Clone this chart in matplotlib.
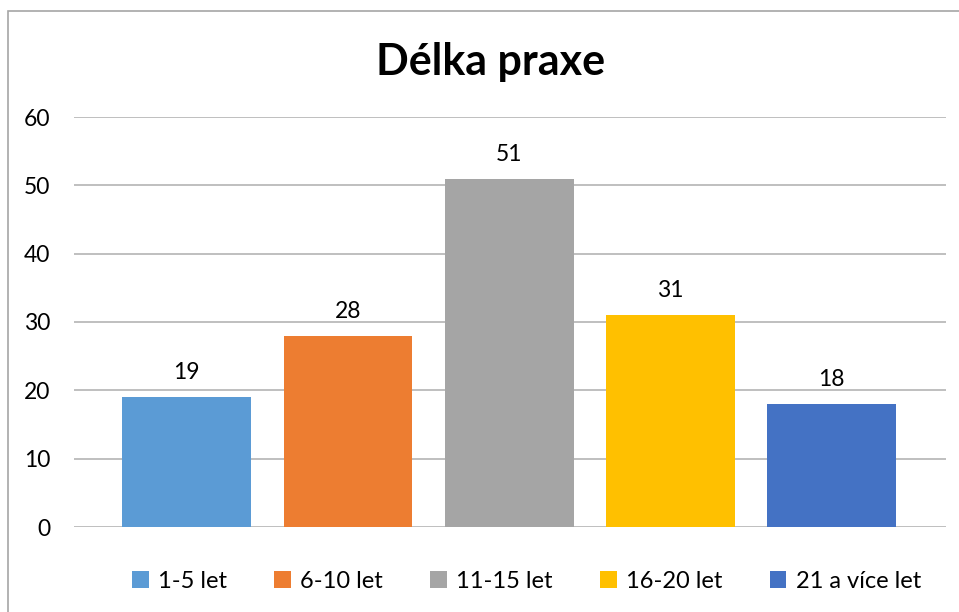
import matplotlib.pyplot as plt
from matplotlib.patches import Rectangle

# data
kategorie = ['1-5 let', '6-10 let', '11-15 let', '16-20 let', '21 a více let']
pocty = [19, 28, 51, 31, 18]
barvy = ['#5B9BD5', '#ED7D31', '#A5A5A5', '#FFC000', '#4472C4']
y_ticks = [0, 10, 20, 30, 40, 50, 60]

plt.rcParams['font.family'] = ['Lato', 'DejaVu Sans']

fig = plt.figure(figsize=(9.59, 6.12), dpi=100)
ax = fig.add_axes([74/959, 1-527/612, (946-74)/959, (527-117)/612])

x = list(range(len(kategorie)))
bars = ax.bar(x, pocty, width=0.8, color=barvy, zorder=3)
for b, v in zip(bars, pocty):
    ax.annotate(str(v), (b.get_x() + b.get_width()/2, v), xytext=(0, 10),
                textcoords='offset points', ha='center', va='bottom',
                fontsize=16.5, color='#000000')

ax.set_xlim(-0.70, 4.71)
ax.set_ylim(0, 60)
ax.set_yticks(y_ticks)
ax.tick_params(axis='y', length=0, labelsize=16.5, pad=17, labelcolor='#000000')
ax.set_xticks([])
ax.grid(axis='y', color='#BFBFBF', linewidth=1.4, zorder=0)
for s in ax.spines.values():
    s.set_visible(False)

fig.text(0.512, 1-62/612, 'Délka praxe', ha='center', va='center',
         fontsize=31, fontweight='bold')

fig.legend(bars, kategorie, loc='center', bbox_to_anchor=(0.549, 1-581/612),
           ncol=5, frameon=False, fontsize=17, handlelength=0.7,
           handleheight=0.7, handletextpad=0.4, columnspacing=2.0)

# ramecek grafu
fig.patches.append(Rectangle((8/959, -0.1), 1.2, 1.1 - 11/612,
                             transform=fig.transFigure, fill=False,
                             edgecolor='#A6A6A6', linewidth=1.2))

fig.savefig('out.png', dpi=100)
